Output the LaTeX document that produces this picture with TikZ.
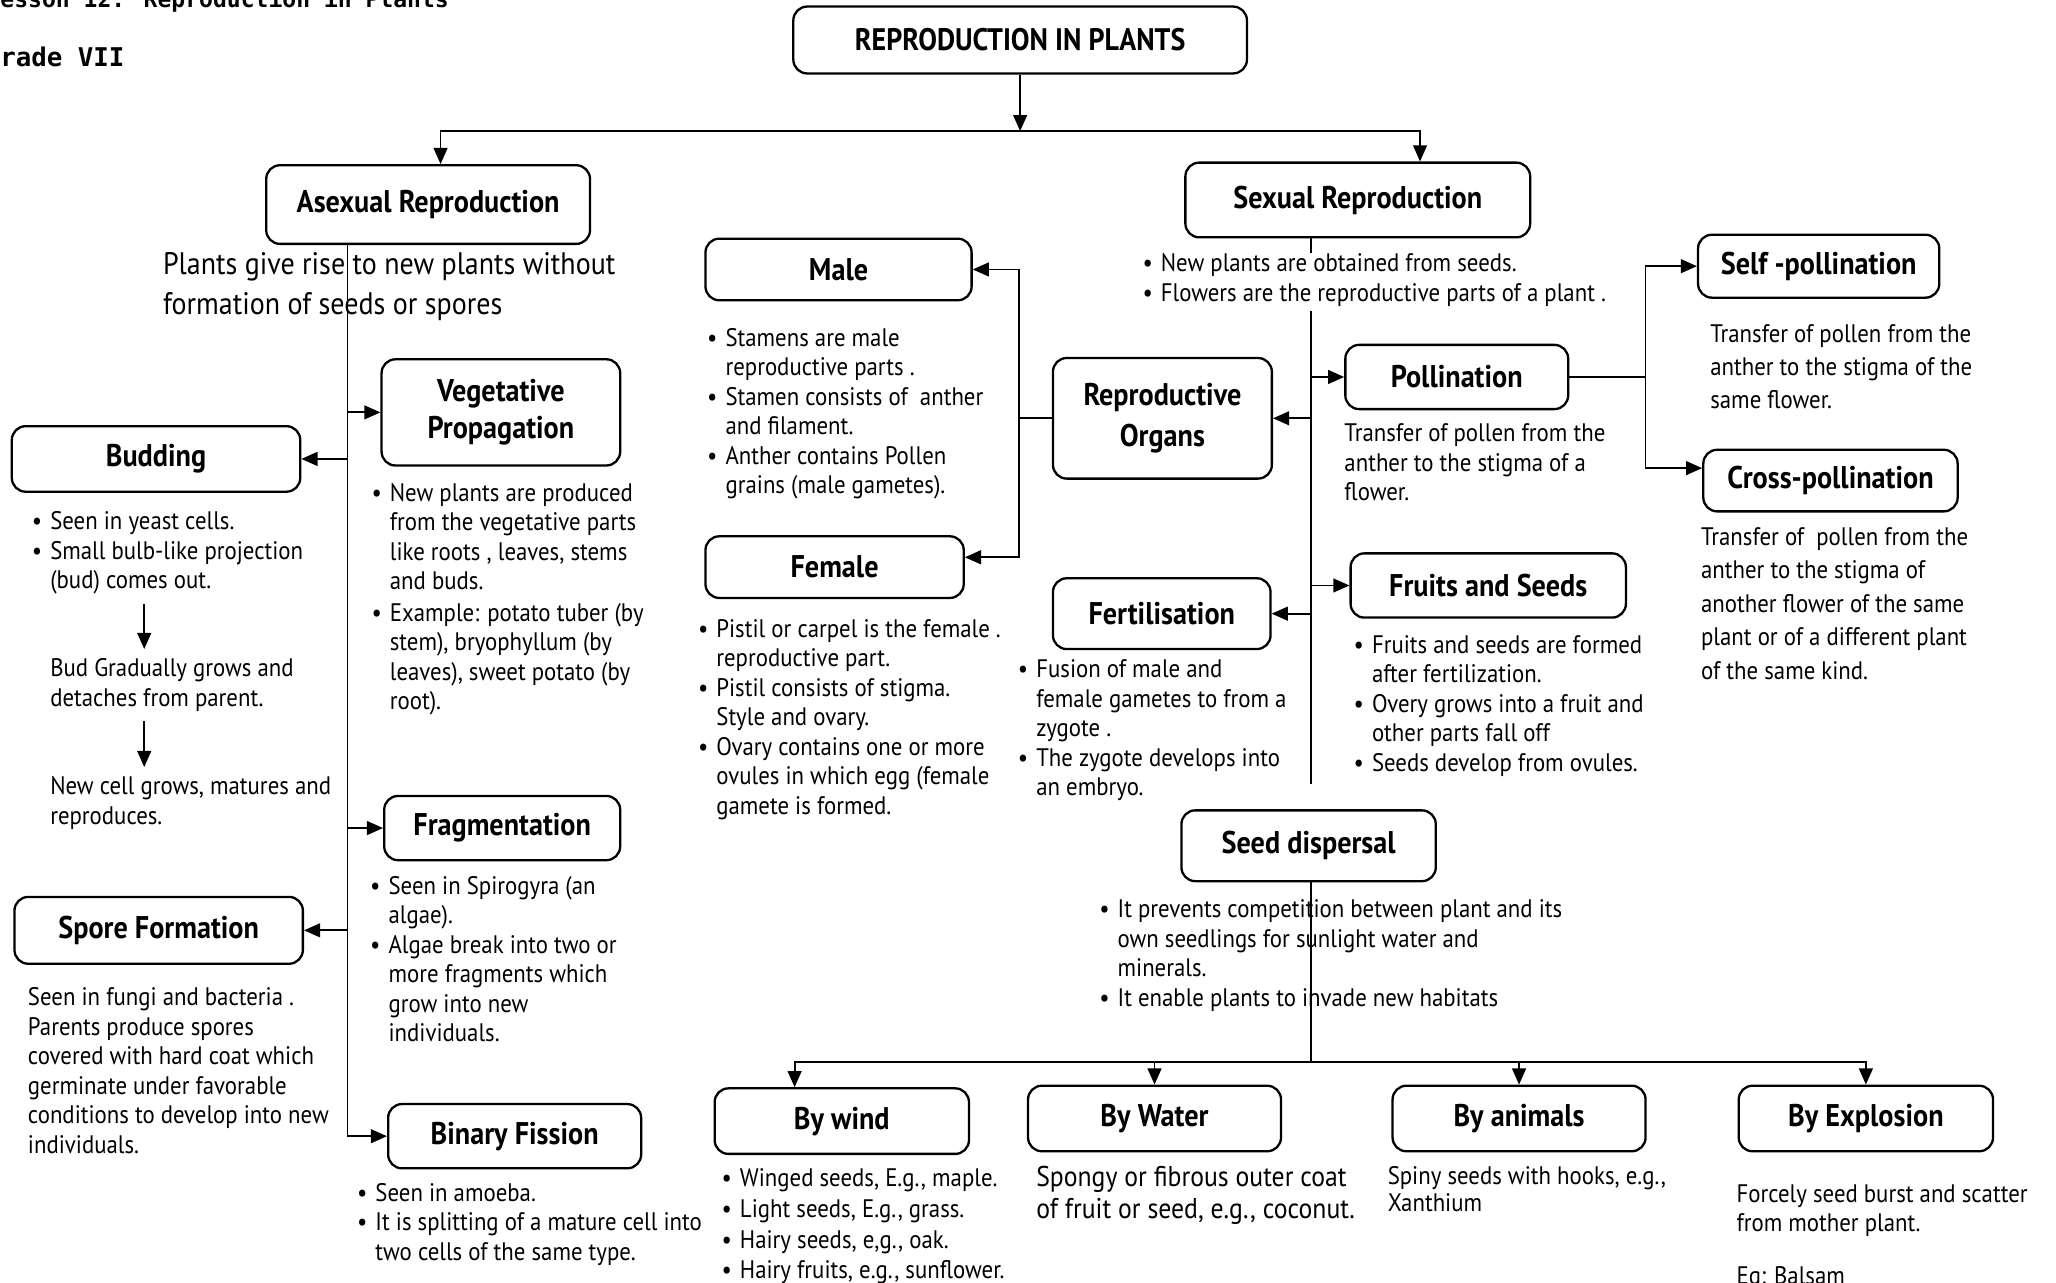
\documentclass[tikz,border=0pt]{standalone}
\usepackage{fontspec}
\setmainfont{PT Sans}[FakeStretch=0.9]
\newfontfamily\headfont{DejaVu Sans Mono}
\usepackage{tikz}
\usetikzlibrary{arrows.meta,calc}
\tikzset{box/.style={draw,rounded corners=6pt,line width=1pt,align=center,inner sep=2pt,font=\fontsize{13.6}{16}\selectfont\bfseries}}
\tikzset{txt/.style={anchor=north west,inner sep=0pt,align=left,font=\fontsize{11}{12.8}\selectfont}}
\tikzset{arr/.style={-{Triangle[length=7pt,width=6pt]},line width=0.8pt},conn/.style={line width=0.8pt}}
\newcommand{\itm}{\makebox[0.28cm][l]{\textbullet}}
\newcommand{\ind}{\hspace*{0.28cm}}

\begin{document}
\begin{tikzpicture}[x=0.02cm,y=-0.02cm]
      \useasboundingbox (0,0) rectangle (1568,978);
      \node[anchor=base west,inner sep=0pt,font=\headfont\bfseries\fontsize{10}{12}\selectfont] (lesson) at (-10.6,6) {Lesson 12: Reproduction in Plants};
      \node[anchor=base west,inner sep=0pt,font=\headfont\bfseries\fontsize{11.2}{13}\selectfont] (grade) at (-12,51) {Grade VII};
      \node[box,minimum width=6.92cm,minimum height=1.02cm,font=\fontsize{13.5}{15}\selectfont\bfseries] (top) at (778,30.5) {REPRODUCTION IN PLANTS};
      \node[box,minimum width=4.94cm,minimum height=1.2cm] (asex) at (326.5,156) {Asexual Reproduction};
      \node[box,minimum width=5.26cm,minimum height=1.14cm] (sex) at (1035.5,152.5) {Sexual Reproduction};
      \node[box,minimum width=3.64cm,minimum height=1.62cm] (veg) at (382,314.5) {Vegetative\\Propagation};
      \node[box,minimum width=4.4cm,minimum height=1cm] (bud) at (119,350) {Budding};
      \node[box,minimum width=3.6cm,minimum height=0.98cm] (frag) at (383,631.5) {Fragmentation};
      \node[box,minimum width=4.4cm,minimum height=1.02cm] (spore) at (121,709.5) {Spore Formation};
      \node[box,minimum width=3.86cm,minimum height=0.98cm] (fission) at (392.5,866.5) {Binary Fission};
      \node[box,minimum width=4.06cm,minimum height=0.94cm] (male) at (639.5,205.5) {Male};
      \node[box,minimum width=3.94cm,minimum height=0.94cm] (female) at (636.5,432.5) {Female};
      \node[box,minimum width=3.34cm,minimum height=1.84cm,font=\fontsize{13.6}{17.6}\selectfont\bfseries] (organs) at (886.5,319) {Reproductive\\Organs};
      \node[box,minimum width=3.32cm,minimum height=1.08cm] (fert) at (886,468) {Fertilisation};
      \node[box,minimum width=3.4cm,minimum height=0.98cm] (poll) at (1111,287.5) {Pollination};
      \node[box,minimum width=4.2cm,minimum height=0.98cm] (fruit) at (1135,446.5) {Fruits and Seeds};
      \node[box,minimum width=3.68cm,minimum height=0.96cm] (self) at (1387,203) {Self -pollination};
      \node[box,minimum width=3.88cm,minimum height=0.94cm] (cross) at (1396,366.5) {Cross-pollination};
      \node[box,minimum width=3.88cm,minimum height=1.08cm] (disp) at (998,645) {Seed dispersal};
      \node[box,minimum width=3.88cm,minimum height=1cm] (wind) at (642,855) {By wind};
      \node[box,minimum width=3.86cm,minimum height=1cm] (water) at (880.5,853) {By Water};
      \node[box,minimum width=3.86cm,minimum height=1cm] (animals) at (1158.5,853) {By animals};
      \node[box,minimum width=3.88cm,minimum height=1cm] (explo) at (1423,853) {By Explosion};
      \node[txt] (sextxt) at (871,193) {\itm New plants are obtained from seeds.\\\itm Flowers are the reproductive parts of a plant .};
      \coordinate (split) at (781,100);
      \coordinate (trunk1) at (265,500);
      \coordinate (trunk2) at (1000,598);
      \coordinate (split2) at (1000,810);
      \coordinate (budx) at (110,500);
      \draw[arr] (top.south) -- (top.south |- split);
      \draw[arr] (split) -| ([xshift=0.19cm]asex.north);
      \draw[arr] (split) -| ([xshift=0.95cm]sex.north);
      \draw[arr] (asex.south -| trunk1) |- (fission.west);
      \draw[arr] (trunk1 |- veg.west) -- (veg.west);
      \draw[arr] (trunk1 |- bud.east) -- (bud.east);
      \draw[arr] (trunk1 |- frag.west) -- (frag.west);
      \draw[arr] (trunk1 |- spore.east) -- (spore.east);
      \draw[conn] (sex.south -| trunk2) -- (sextxt.north -| trunk2);
      \draw[conn] ([yshift=-2pt]sextxt.south -| trunk2) -- (trunk2);
      \draw[arr] (trunk2 |- organs.east) -- (organs.east);
      \draw[arr] (trunk2 |- poll.west) -- (poll.west);
      \draw[arr] (trunk2 |- fert.east) -- (fert.east);
      \draw[arr] (trunk2 |- fruit.west) -- (fruit.west);
      \draw[arr] (organs.west) -- ++(-25,0) |- (male.east);
      \draw[arr] (organs.west) -- ++(-25,0) |- ([yshift=0.15cm]female.east);
      \draw[arr] (poll.east) -- ++(58,0) |- (self.west);
      \draw[arr] (poll.east) -- ++(58,0) |- ([yshift=0.19cm]cross.west);
      \draw[conn] (disp.south -| split2) -- (split2);
      \draw[arr] (split2) -| ([xshift=-0.72cm]wind.north);
      \draw[arr] (split2) -| (water.north);
      \draw[arr] (split2) -| (animals.north);
      \draw[arr] (split2) -| (explo.north);
      \node[txt,font=\fontsize{13.5}{17.6}\selectfont] (asextxt) at (124,192) {Plants give rise to new plants without\\formation of seeds or spores};
      \node[txt] (budtxt1) at (24,390) {\itm Seen in yeast cells.\\\itm Small bulb-like projection\\\ind (bud) comes out.};
      \node[txt] (budtxt2) at (38,502) {Bud Gradually grows and\\detaches from parent.};
      \node[txt] (budtxt3) at (38,592) {New cell grows, matures and\\reproduces.};
      \node[txt] (vegtxt) at (283,368) {\itm New plants are produced\\\ind from the vegetative parts\\\ind like roots , leaves, stems\\\ind and buds.\\[1pt]\itm Example: potato tuber (by\\\ind stem), bryophyllum (by\\\ind leaves), sweet potato (by\\\ind root).};
      \node[txt] (fragtxt) at (282,668) {\itm Seen in Spirogyra (an\\\ind algae).\\\itm Algae break into two or\\\ind more fragments which\\\ind grow into new\\\ind individuals.};
      \node[txt] (sporetxt) at (21,753) {Seen in fungi and bacteria .\\Parents produce spores\\covered with hard coat which\\germinate under favorable\\conditions to develop into new\\individuals.};
      \node[txt] (fissiontxt) at (272,902) {\itm Seen in amoeba.\\\itm It is splitting of a mature cell into\\\ind two cells of the same type.};
      \node[txt] (maletxt) at (539,250) {\itm Stamens are male\\\ind reproductive parts .\\\itm Stamen consists of \ anther\\\ind and filament.\\\itm Anther contains Pollen\\\ind grains (male gametes).};
      \node[txt] (femaletxt) at (532,472) {\itm Pistil or carpel is the female .\\\ind reproductive part.\\\itm Pistil consists of stigma.\\\ind Style and ovary.\\\itm Ovary contains one or more\\\ind ovules in which egg (female\\\ind gamete is formed.};
      \node[txt] (ferttxt) at (776,503) {\itm Fusion of male and\\\ind female gametes to from a\\\ind zygote .\\\itm The zygote develops into\\\ind an embryo.};
      \node[txt] (polltxt) at (1025,323) {Transfer of pollen from the\\anther to the stigma of a\\flower.};
      \node[txt,font=\fontsize{11}{14.3}\selectfont] (selftxt) at (1304,247) {Transfer of pollen from the\\anther to the stigma of the\\same flower.};
      \node[txt,font=\fontsize{11}{14.5}\selectfont] (crosstxt) at (1297,402) {Transfer of \ pollen from the\\anther to the stigma of\\another flower of the same\\plant or of a different plant\\of the same kind.};
      \node[txt] (fruittxt) at (1032,484) {\itm Fruits and seeds are formed\\\ind after fertilization.\\\itm Overy grows into a fruit and\\\ind other parts fall off\\\itm Seeds develop from ovules.};
      \node[txt] (disptxt) at (838,686) {\itm It prevents competition between plant and its\\\ind own seedlings for sunlight water and\\\ind minerals.\\\itm It enable plants to invade new habitats};
      \node[txt,font=\fontsize{11}{13.3}\selectfont] (windtxt) at (550,891) {\itm Winged seeds, E.g., maple.\\\itm Light seeds, E.g., grass.\\\itm Hairy seeds, e,g., oak.\\\itm Hairy fruits, e.g., sunflower.};
      \node[txt,font=\fontsize{12.4}{13.8}\selectfont] (watertxt) at (790,889) {Spongy or fibrous outer coat\\of fruit or seed, e.g., coconut.};
      \node[txt,font=\fontsize{11}{12}\selectfont] (animalstxt) at (1058,889) {Spiny seeds with hooks, e.g.,\\Xanthium};
      \node[txt] (explotxt) at (1324,903) {Forcely seed burst and scatter\\from mother plant.\\[0.35cm]Eg: Balsam};
      \draw[arr,shorten <=4pt,shorten >=4pt] (budtxt1.south -| budx) -- (budtxt2.north -| budx);
      \draw[arr,shorten <=4pt,shorten >=4pt] (budtxt2.south -| budx) -- (budtxt3.north -| budx);
    \end{tikzpicture}
\end{document}
